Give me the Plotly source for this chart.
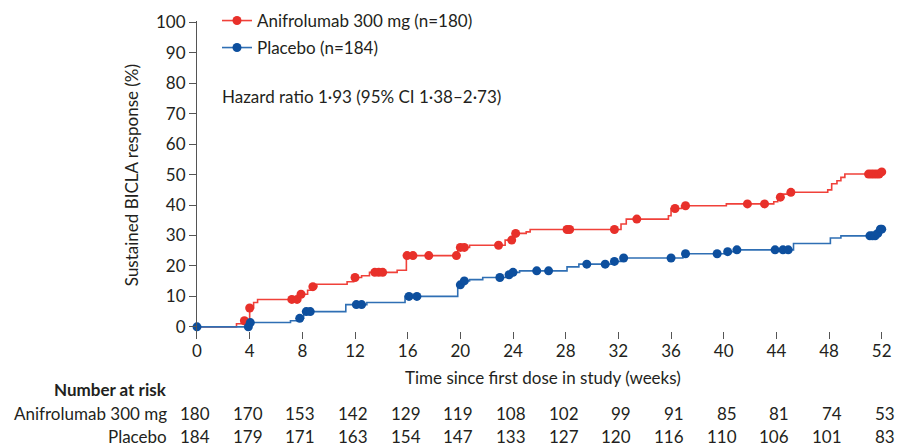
import numpy as np
import plotly.graph_objects as go

# Kaplan-Meier style cumulative response (%), step change points
weeks_ticks = [0, 4, 8, 12, 16, 20, 24, 28, 32, 36, 40, 44, 48, 52]

anif_step_t = [0, 3.0, 3.4, 4.0, 4.3, 4.6, 7.8, 8.4, 8.7, 9.1, 11.4, 11.9, 12.5, 13.1,
               15.2, 15.9, 19.8, 20.7, 23.4, 24.0, 25.0, 25.3, 32.2, 32.6, 35.8, 36.0,
               36.8, 40.2, 43.8, 44.1, 44.5, 44.9, 47.9, 48.2, 48.6, 48.9, 49.2, 51.9]
anif_step_v = [0, 1.0, 2.0, 6.2, 8.0, 9.0, 10.7, 12.0, 13.2, 14.0, 14.8, 16.2, 16.8, 17.9,
               18.6, 23.4, 26.1, 26.8, 28.5, 30.7, 31.2, 32.0, 33.8, 35.4, 36.5, 38.9,
               39.8, 40.4, 41.1, 42.6, 43.6, 44.2, 45.0, 47.0, 48.0, 49.1, 50.2, 50.9]
anif_cens_t = [3.6, 4.0, 7.2, 7.6, 7.9, 8.8, 12.0, 13.5, 13.8, 14.1, 15.95, 16.4, 17.6,
               19.7, 20.0, 20.3, 22.9, 23.9, 24.2, 28.1, 28.3, 31.7, 33.4, 36.3, 37.1,
               41.8, 43.1, 44.3, 45.1, 51.0, 51.2, 51.4, 51.6, 51.8, 52.0]

plac_step_t = [0, 4.0, 7.1, 7.7, 8.1, 11.3, 12.9, 15.8, 19.8, 20.2, 20.7, 21.7, 23.5,
               23.9, 24.5, 28.1, 29.0, 31.6, 32.2, 36.9, 40.2, 40.8, 45.3, 48.1, 48.9,
               51.6, 51.9]
plac_step_v = [0, 1.4, 2.0, 2.8, 5.0, 7.3, 8.0, 10.0, 13.8, 15.1, 15.5, 16.2, 17.1,
               17.9, 18.4, 19.7, 20.6, 21.5, 22.6, 24.0, 24.7, 25.3, 27.4, 29.2, 29.9,
               30.7, 32.1]
plac_cens_t = [0, 3.9, 4.05, 7.8, 8.3, 8.6, 12.1, 12.5, 16.1, 16.7, 20.0, 20.3, 23.0,
               23.7, 24.0, 25.8, 26.7, 29.6, 31.0, 31.7, 32.4, 36.0, 37.1, 39.5, 40.3,
               41.0, 43.9, 44.5, 44.9, 51.1, 51.3, 51.5, 51.7, 51.9, 52.0]

risk_anif = [180, 170, 153, 142, 129, 119, 108, 102, 99, 91, 85, 81, 74, 53]
risk_plac = [184, 179, 171, 163, 154, 147, 133, 127, 120, 116, 110, 106, 101, 83]

RED_LINE = "#f0413a"
RED_MARK = "#e8302a"
BLUE_LINE = "#2f6fb4"
BLUE_MARK = "#0d4f9e"
TEXT = "#231f20"
AXIS = "#555555"
FONT = "Lato"
FS = 17

W, H = 901, 446


def step_value(step_t, step_v, t):
    idx = np.searchsorted(np.asarray(step_t), np.asarray(t), side="right") - 1
    return np.asarray(step_v)[np.clip(idx, 0, None)]


fig = go.Figure()

for st, sv, ct, lc, mc, name, leg in [
    (anif_step_t, anif_step_v, anif_cens_t, RED_LINE, RED_MARK, "Anifrolumab 300 mg (n=180)", "legend"),
    (plac_step_t, plac_step_v, plac_cens_t, BLUE_LINE, BLUE_MARK, "Placebo (n=184)", "legend2"),
]:
    xs = list(st) + [52]
    ys = list(sv) + [sv[-1]]
    fig.add_trace(go.Scatter(x=xs, y=ys, mode="lines", line=dict(color=lc, width=1.6, shape="hv"),
                             showlegend=False, hoverinfo="skip", cliponaxis=False))
    fig.add_trace(go.Scatter(x=ct, y=step_value(st, sv, ct), mode="markers",
                             marker=dict(color=mc, size=9, line=dict(width=0)),
                             showlegend=False, cliponaxis=False))
    # legend entry
    fig.add_trace(go.Scatter(x=[None], y=[None], mode="lines+markers", name=name,
                             line=dict(color=lc, width=1.6), marker=dict(color=mc, size=9),
                             legend=leg))

PX_L, PX_T = 197, 21
plot_w, plot_h = 690.3, 317.7


def py(px):
    return (PX_T + plot_h - px) / plot_h


def legend_box(center_px):
    return dict(x=(217 - PX_L) / plot_w, y=1 - (center_px - 15) / H, xref="paper", yref="container",
                xanchor="left", yanchor="top", bgcolor="rgba(0,0,0,0)",
                font=dict(size=FS, color=TEXT))


fig.update_layout(
    width=W, height=H,
    margin=dict(l=PX_L, r=W - PX_L - plot_w, t=PX_T, b=H - PX_T - plot_h, pad=0, autoexpand=False),
    paper_bgcolor="white", plot_bgcolor="white",
    font=dict(family=FONT, size=FS, color=TEXT),
    legend=legend_box(18),
    legend2=legend_box(45),
    xaxis=dict(range=[0, 52.4], tickvals=weeks_ticks, ticks="inside", ticklen=7,
               tickcolor=AXIS, tickwidth=1.2, showline=False, showgrid=False, zeroline=False,
               tickfont=dict(size=FS, color=TEXT)),
    yaxis=dict(range=[-4, 100.5], tickvals=list(range(0, 101, 10)), ticks="outside", ticklen=7,
               tickcolor=AXIS, tickwidth=1.2, showline=True, linecolor=AXIS, linewidth=1.2,
               showgrid=False, zeroline=False, tickfont=dict(size=FS, color=TEXT)),
)

ann = []
ann.append(dict(text="Sustained BICLA response (%)", xref="paper", yref="paper",
                x=(131 - PX_L) / plot_w, y=py(175), textangle=-90,
                showarrow=False, xanchor="center", yanchor="middle"))
ann.append(dict(text="Time since first dose in study (weeks)", xref="paper", yref="paper",
                x=(543 - PX_L) / plot_w, y=py(377),
                showarrow=False, xanchor="center", yanchor="middle"))
ann.append(dict(text="Hazard ratio 1·93 (95% CI 1·38–2·73)", xref="paper", yref="paper",
                x=(220 - PX_L) / plot_w, y=py(96),
                showarrow=False, xanchor="left", yanchor="middle"))

ann.append(dict(text="<b>Number at risk</b>", xref="paper", yref="paper",
                x=(169 - PX_L) / plot_w, y=py(389), showarrow=False,
                xanchor="right", yanchor="middle"))
for label, row, ypx in [("Anifrolumab 300 mg", risk_anif, 413), ("Placebo", risk_plac, 436)]:
    ann.append(dict(text=label, xref="paper", yref="paper", x=(169 - PX_L) / plot_w, y=py(ypx),
                    showarrow=False, xanchor="right", yanchor="middle"))
    for t, n in zip(weeks_ticks, row):
        ann.append(dict(text=str(n), xref="x", yref="paper", x=t, y=py(ypx), xshift=15,
                        showarrow=False, xanchor="right", yanchor="middle"))

fig.update_layout(annotations=ann)
fig.write_html("out.html")
